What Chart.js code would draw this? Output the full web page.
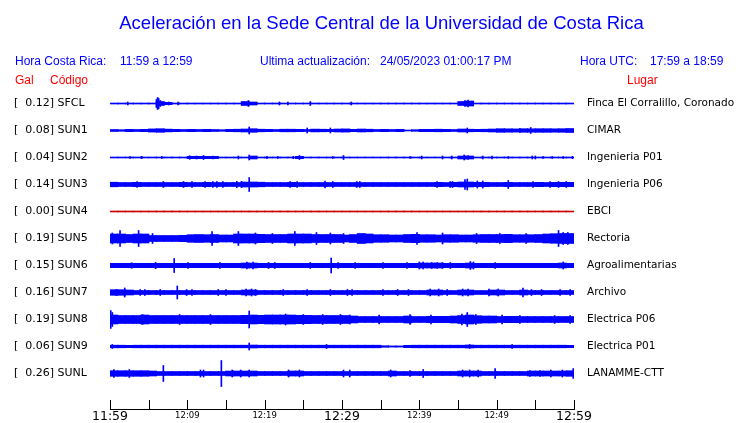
<!DOCTYPE html>
<html>
<head>
<meta charset="utf-8">
<script src="https://cdn.jsdelivr.net/npm/chart.js@4.4.0/dist/chart.umd.min.js"></script>
<style>
  body { margin: 0; background: #fff; }
  canvas { display: block; }
</style>
</head>
<body>
<canvas id="sismo" width="740" height="423"></canvas>
<script>
// estaciones, de arriba hacia abajo
var stations = ['SFCL', 'SUN1', 'SUN2', 'SUN3', 'SUN4', 'SUN5', 'SUN6', 'SUN7', 'SUN8', 'SUN9', 'SUNL'];
var places = ['Finca El Corralillo, Coronado', 'CIMAR', 'Ingenieria P01', 'Ingenieria P06', 'EBCI', 'Rectoria',
              'Agroalimentarias', 'Archivo', 'Electrica P06', 'Electrica P01', 'LANAMME-CTT'];
var peakGal = [0.12, 0.08, 0.04, 0.14, 0.00, 0.19, 0.15, 0.16, 0.19, 0.06, 0.26];
var tickLabels = ['11:59', '12:09', '12:19', '12:29', '12:39', '12:49', '12:59'];

// envolvente de cada traza, un valor por minuto (medio ancho)
var envSFCL = [0.5,0.5,0.5,0.5,0.5, 0.5,2,1.2,0.5,0.5, 0.5,0.5,0.5,0.5,0.5, 0.5,0.5,2,1.5,0.5,
               0.5,0.5,0.5,0.5,0.5, 0.5,0.5,0.5,0.5,0.5, 0.5,0.5,0.5,0.5,0.5, 0.5,0.5,0.5,0.5,0.5,
               0.5,0.5,0.5,0.5,0.5, 2,2.5,0.5,0.5,0.5, 0.5,0.5,0.5,0.5,0.5, 0.5,0.5,0.5,0.5,0.5];
var envSUN1 = [1,0.8,1.2,1,1.2, 1.6,1.8,1.4,1.2,1, 1.2,1,1.2,1,0.8, 1.2,1.3,1.5,1.8,1.3,
               1.2,1,1.3,1.3,1.2, 1,1.4,1.3,1.2,1.5, 1.6,1.2,1.5,1.3,1, 1.2,1,1.2,0.5,0.8,
               1.2,1.2,1.3,1.2,1, 1.5,1.3,1.2,1.3,1.5, 1.8,1.7,1.6,1.8,1.7, 1.8,1.8,1.7,1.8,2];
var envSUN2 = [0.5,0.5,0.5,0.5,0.5, 0.5,0.5,0.5,0.5,0.5, 1.2,1.2,1.2,1.2,0.5, 0.5,0.5,0.5,1.5,0.5,
               0.5,0.5,0.5,0.5,1.2, 0.5,0.5,0.5,0.5,0.5, 0.5,0.5,0.5,0.5,0.5, 0.5,0.5,0.5,0.5,0.5,
               0.5,0.5,0.5,0.5,0.5, 1.5,1.5,0.5,0.5,0.5, 0.5,0.5,0.5,0.5,0.5, 0.5,0.5,0.5,0.5,0.5];
var envSUN3 = [2.3,2,2,2.2,2, 2,2,2,2,2.2, 2,2,2.2,2,2, 2,2,2.5,2.5,2.3, 2,2,2,2.2,2, 2,2,2,2,2,
               2,2,2,2,2, 2,2,2,2,2, 2,2,2.2,2,2.2, 2.5,2.5,2.2,2.2,2, 2,2.2,2,2,2, 2.2,2,2.2,2.2,2.2];
var envSUN4 = [0.5,0.5,0.5,0.5,0.5, 0.5,0.5,0.5,0.5,0.5, 0.5,0.5,0.5,0.5,0.5, 0.5,0.5,0.5,0.5,0.5,
               0.5,0.5,0.5,0.5,0.5, 0.5,0.5,0.5,0.5,0.5, 0.5,0.5,0.5,0.5,0.5, 0.5,0.5,0.5,0.5,0.5,
               0.5,0.5,0.5,0.5,0.5, 0.5,0.5,0.5,0.5,0.5, 0.5,0.5,0.5,0.5,0.5, 0.5,0.5,0.5,0.5,0.5];
var envSUN5 = [4.5,4.5,4,4.5,4.5, 3,3,3,3,3.2, 3.8,4,3.8,4,3.5, 3.5,4.5,4.5,4.5,4.2,
               4,4,4,4.5,4.5, 4.5,4,4,4,4, 3.5,4,5,4.5,3.8, 3.8,3.5,3.5,4,4.2,
               3.8,3.8,3.5,3.8,3.8, 3.5,3.5,3.8,4,4, 4,4.2,3.8,3.8,3.8, 4,4.5,4.8,5,5];
var envSUN6 = [2.2,2.2,2.2,2.2,2.2, 2.2,2.2,2.2,2.2,2.2, 2.2,2.2,2.2,2.2,2.2, 2.2,2.2,2.5,2.5,2.2,
               2.2,2.2,2.2,2.2,2.2, 2.2,2.2,2.2,2.2,2.2, 2.2,2.2,2.2,2.2,2.2, 2.2,2.2,2.2,2.2,2.2,
               2.5,2.5,2.5,2.2,2.2, 2.2,2.5,2.2,2.2,2.2, 2.2,2.2,2.2,2.2,2.2, 2.2,2.2,2.2,2.5,2.2];
var envSUN7 = [2.8,2.8,2.5,2,2, 2,2,2,2,2, 2,2,2,2,2, 2,2,2.5,2.5,2, 2,2,2,2,2, 2,2,2,2,2,
               2,2,2,2,2, 2,2,2,2,2, 2,2.5,2.5,2,2, 2.5,2.5,2,2,2.5, 2.5,2,2,2.5,2, 2,2,2,2,2];
var envSUN8 = [4.5,4,4,4,4.5, 4,4,4,4,4, 4,4,4,4,4, 4,4,4.2,4.5,4.2, 4.5,4.5,4.5,4.5,4.2, 4.2,4,4,4,4,
               4,3.5,3,3,3, 3,3,3,3.5,3, 3,3.2,3.2,3.2,3.5, 4,4.5,3.8,3.5,3.5, 3,3.2,3.2,3,3, 3,3,3,3,3];
var envSUN9 = [1.3,1.3,1.2,1.3,1.3, 1.3,1.3,1.3,1.3,1.3, 1.3,1.3,1.3,1.3,1.3, 1.3,1.3,1.3,1.5,1.3,
               1.3,1.3,1.3,1.3,1.3, 1.3,1.3,1.3,1.3,1.3, 1.3,1.3,1.3,1.3,1.3, 0.8,0.6,0.6,1.2,1.3,
               1.3,1.3,1.3,1.3,1.3, 1.3,1.5,1.3,1.3,1.3, 1.3,1.3,1.3,1.3,1.3, 1.3,1.3,1.3,1.3,1.2];
var envSUNL = [2.8,2.8,2.8,2.8,2.8, 2.5,2,2,2,2, 2,2,2,2,2, 2.5,2.5,2.5,2.5,2, 2,2,2,2.5,2.5,
               2,2,2,2,2, 2,2,2,2,2, 2,2.5,2,2,2, 2,2,2,2,2, 2.5,2.5,2.5,2,2, 2,2,2,2,2.5, 2.5,2.5,2.5,2.5,2.8];

// picos sueltos: [minuto, amplitud]
var spkSFCL = [[2.3,1.5],[6.0,4],[6.15,6],[6.3,5],[6.5,3],[7.6,1.5],[8.8,1.5],[17.9,3],[21.9,1.5],[23.0,1.5],
               [25.9,2],[31.2,1.5],[45.9,3],[46.3,3.5]];
var spkSUN1 = [[18,3.5],[25.5,2.5],[28.5,2.5],[46.2,2.5],[53,2],[54.4,3]];
var spkSUN2 = [[2.6,1],[4.1,1.2],[6.7,1],[10.3,1.8],[11.2,1.5],[12.1,2],[13.3,1.5],[16.6,1.5],[18,2.5],[20.3,1.2],
               [21.7,1],[23.7,1.2],[24.5,2],[28.8,1],[30.2,2],[38.8,1],[40.3,1.5],[43,1.5],[44.2,1.5],[45.8,2.5],
               [46.3,2],[48.2,1.5],[49.4,1.5],[51.5,1],[54.6,1.5],[55,1.5],[56,1],[57.2,1],[58.6,1],[59.8,1.2]];
var spkSUN3 = [[3.5,3],[6.9,3],[9.5,3],[10.6,3],[12.3,3],[13.3,3],[13.8,3],[14.6,3],[16.4,3.2],[17,3.2],
               [18,7],[23.3,3],[24.2,3],[27.8,3.5],[28.8,3],[31.9,3],[32.3,3],[42.3,3],[44,3],[44.3,3],
               [45.9,5],[46.2,5.5],[47.5,3.5],[48.2,3.5],[51.5,4],[54.7,3],[56.9,3],[58,3],[59,3]];
var spkSUN4 = [];
var spkSUN5 = [[0.3,5.5],[1.3,8],[3.7,8],[5.5,5],[13.2,7],[16.6,7],[18.8,5.5],[21,5],[23.9,7],[26.7,6],
               [28.5,5.5],[30.2,5],[39.7,6],[43,5.5],[47.4,5],[50.4,5],[53.8,5],[58,8],[58.6,6],[59.2,6]];
var spkSUN6 = [[2.8,2.8],[5.9,3.2],[8.3,7],[10.1,2.8],[14.2,3],[17.7,3.5],[18.5,3.5],[20.5,3],[21.3,3],[25.9,3],
               [28.6,7.5],[29.5,3],[31.7,3],[35.3,3],[38.4,3],[40,3.5],[40.5,3.5],[41.6,3],[42.3,3],[43,3],
               [44,3],[46.6,4],[47,3.5],[49.8,3],[58.6,3.5]];
var spkSUN7 = [[0.8,3],[1.9,4.5],[3.9,3],[4.5,3],[6.5,3],[8.7,6.5],[9.9,3],[10.6,3],[14,3],[15,3],
               [17.6,3.5],[18.3,3.5],[18.8,3],[22.4,3],[25.5,3],[28.5,3],[30.7,3],[31.3,3],[35.3,3],[37.2,3],
               [38.6,3],[41.4,3.5],[42.5,3.5],[43.6,3],[45.6,3.5],[46.3,3.5],[49,3.5],[50.2,3.5],[53.4,4.5],[54.5,3],
               [55.8,3],[58.2,3],[59.5,3]];
var spkSUN8 = [[0.1,9],[0.3,7],[4.2,5],[9,5],[13,5],[18,8.5],[22.7,5.5],[25,5],[27.5,5],[29.8,5],
               [31,4.5],[34.8,4.5],[38.8,5],[41.5,4.5],[45.5,5.5],[46.2,7],[47.3,5],[50.7,4.5],[53,4],[57.5,4],[59.5,4]];
var spkSUN9 = [[0.3,2],[18,3.5],[28,2],[46.5,2],[52,1.8]];
var spkSUNL = [[0.5,4],[2.5,4],[6.9,8],[11.7,3.5],[12.1,3.5],[14.4,13],[15.8,3.5],[16.9,3.5],[18,3.5],[23.1,3.5],
               [24.5,3.5],[30.2,3.5],[31,3.5],[36.3,3.5],[38.8,3],[40.5,4],[45.6,3.5],[46.5,3.5],[47.6,3.5],[49.8,5],
               [54.3,3],[55.6,3],[57,3.5],[58.5,3.5],[59.9,5]];

var traces = [
  [envSFCL, spkSFCL], [envSUN1, spkSUN1], [envSUN2, spkSUN2], [envSUN3, spkSUN3],
  [envSUN4, spkSUN4], [envSUN5, spkSUN5], [envSUN6, spkSUN6], [envSUN7, spkSUN7],
  [envSUN8, spkSUN8], [envSUN9, spkSUN9], [envSUNL, spkSUNL]
];

// eje vertical en pixeles, cada traza separada 27
var SEP = 27, PRIMERA = 14.5, ALTO = 320;
function centro(i) { return -(PRIMERA + SEP * i); }

var datasets = [];
traces.forEach(function(t, i) {
  var c = centro(i);
  var color = peakGal[i] === 0 ? '#c80000' : '#0000ff';
  datasets.push({
    data: t[0].map(function(a, m) { return { x: m + 0.5, y: [c - a, c + a] }; }),
    backgroundColor: color, borderWidth: 0, barThickness: 8.3, grouped: false
  });
  datasets.push({
    data: t[1].map(function(s) { return { x: s[0], y: [c - s[1], c + s[1]] }; }),
    backgroundColor: color, borderWidth: 0, barThickness: 1, grouped: false
  });
});

var etiquetasIzq = stations.map(function(s, i) {
  return '[' + peakGal[i].toFixed(2).padStart(6, ' ') + '] ' + s;
});

// marcas del eje hacia arriba y textos de encabezado
var encabezado = {
  id: 'encabezado',
  afterDraw: function(chart) {
    var ctx = chart.ctx, x = chart.scales.x, area = chart.chartArea;
    ctx.save();
    ctx.strokeStyle = '#000';
    ctx.lineWidth = 1;
    x.ticks.forEach(function(t) {
      var px = Math.round(x.getPixelForValue(t.value)) + 0.5;
      ctx.beginPath();
      ctx.moveTo(px, area.bottom - 9);
      ctx.lineTo(px, area.bottom);
      ctx.stroke();
    });

    ctx.textBaseline = 'alphabetic';
    ctx.fillStyle = '#0000ff';
    ctx.font = '18.5px "Liberation Sans", Arial, sans-serif';
    ctx.textAlign = 'center';
    ctx.fillText('Aceleración en la Sede Central de la Universidad de Costa Rica', 381.5, 29);

    ctx.textAlign = 'left';
    ctx.font = '12px "Liberation Sans", Arial, sans-serif';
    ctx.fillText('Hora Costa Rica:', 15, 65);
    ctx.fillText('11:59 a 12:59', 120, 65);
    ctx.fillText('Ultima actualización:', 260, 65);
    ctx.fillText('24/05/2023 01:00:17 PM', 380, 65);
    ctx.fillText('Hora UTC:', 580, 65);
    ctx.fillText('17:59 a 18:59', 650, 65);

    ctx.fillStyle = '#ff0000';
    ctx.fillText('Gal', 15, 84);
    ctx.fillText('Código', 50, 84);
    ctx.fillText('Lugar', 627, 84);
    ctx.restore();
  }
};

var fuente = 'DejaVu Sans';

function sinMargen(s) {
  s.paddingTop = 0; s.paddingBottom = 0; s.paddingLeft = 0; s.paddingRight = 0;
}

new Chart(document.getElementById('sismo'), {
  type: 'bar',
  data: { datasets: datasets },
  options: {
    responsive: false,
    animation: false,
    events: [],
    layout: { padding: { left: 14, right: 0, top: 89, bottom: 0 } },
    plugins: { legend: { display: false }, tooltip: { enabled: false } },
    scales: {
      x: {
        type: 'linear', min: 0, max: 60, offset: false,
        grid: { display: false, drawTicks: false },
        border: { display: true, color: '#000', width: 1 },
        afterFit: function(s) { s.height = 14; sinMargen(s); },
        ticks: {
          stepSize: 5, autoSkip: false, maxRotation: 0, padding: 0, color: '#000',
          font: function(c) {
            var grande = c.tick && c.tick.value % 30 === 0;
            return grande ? { family: fuente, size: 12.5, lineHeight: 1.2 } : { family: fuente, size: 8.5, lineHeight: 1.5 };
          },
          callback: function(v) { return v % 10 === 0 ? tickLabels[v / 10] : ''; }
        }
      },
      y: {
        type: 'linear', position: 'left', min: -ALTO, max: 0,
        grid: { display: false, drawTicks: false },
        border: { display: false },
        afterBuildTicks: function(s) { s.ticks = stations.map(function(_, i) { return { value: centro(i) }; }); },
        afterFit: function(s) { s.width = 96; sinMargen(s); },
        ticks: {
          autoSkip: false, crossAlign: 'far', padding: 0, color: '#000',
          font: { family: fuente, size: 11 },
          callback: function(v, i) { return etiquetasIzq[i]; }
        }
      },
      y2: {
        type: 'linear', position: 'right', min: -ALTO, max: 0,
        grid: { display: false, drawTicks: false },
        border: { display: false },
        afterBuildTicks: function(s) { s.ticks = places.map(function(_, i) { return { value: centro(i) }; }); },
        afterFit: function(s) { s.width = 166; sinMargen(s); },
        ticks: {
          autoSkip: false, crossAlign: 'near', padding: 13, color: '#000',
          font: { family: fuente, size: 10.5 },
          callback: function(v, i) { return places[i]; }
        }
      }
    }
  },
  plugins: [encabezado]
});
</script>
</body>
</html>
